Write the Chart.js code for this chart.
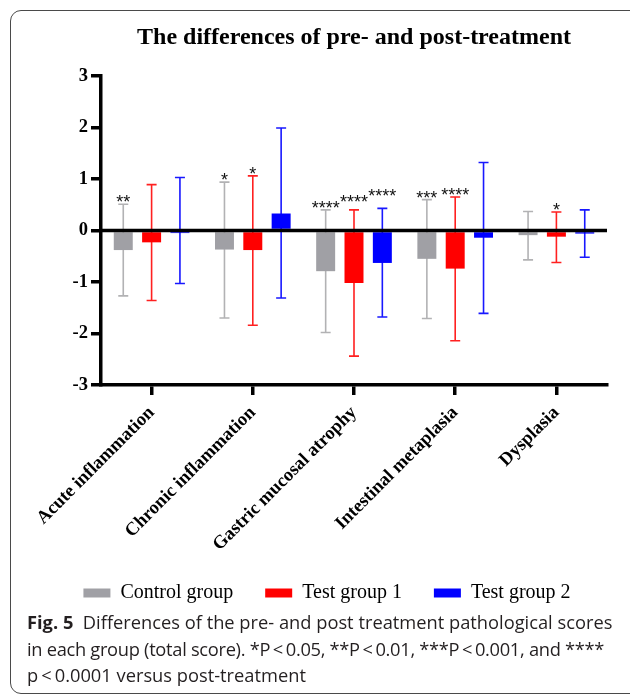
<!DOCTYPE html>
<html>
<head>
<meta charset="utf-8">
<script src="https://cdn.jsdelivr.net/npm/chart.js@4.4.1/dist/chart.umd.min.js"></script>
<style>
  html, body { margin: 0; padding: 0; background: #fff; }
  body { width: 630px; height: 695px; position: relative; overflow: hidden; }
  #frame {
    position: absolute; left: 10px; top: 10px; width: 700px; height: 682px;
    border: 1.3px solid #4a4a4a; border-radius: 11px;
  }
  #wrap { position: absolute; left: 0; top: 0; width: 630px; height: 613px; }
  #caption {
    position: absolute; left: 27px; top: 609px; z-index: 2;
    font-family: "Open Sans", sans-serif; font-size: 18.3px; line-height: 26.5px;
    color: #231f20; white-space: nowrap; letter-spacing: 0;
  }
  #caption b { font-weight: 700; }
  #caption .tight { letter-spacing: -0.3px; }
</style>
</head>
<body>
<div id="frame"></div>
<div id="wrap"><canvas id="chart" width="630" height="613"></canvas></div>
<div id="caption">
  <div><b>Fig. 5</b>&nbsp; Differences of the pre- and post treatment pathological scores</div>
  <div class="tight">in each group (total score). *P&thinsp;&lt;&thinsp;0.05, **P&thinsp;&lt;&thinsp;0.01, ***P&thinsp;&lt;&thinsp;0.001, and ****</div>
  <div>p&thinsp;&lt;&thinsp;0.0001 versus post-treatment</div>
</div>
<script>
// différences pré/post traitement
const categories = ['Acute inflammation', 'Chronic inflammation', 'Gastric mucosal atrophy', 'Intestinal metaplasia', 'Dysplasia'];
const seriesNames = ['Control group', 'Test group 1', 'Test group 2'];

const controlMean = [-0.38, -0.37, -0.79, -0.55, -0.09];
const controlLow  = [-1.27, -1.70, -1.98, -1.71, -0.57];
const controlHigh = [ 0.51,  0.94,  0.40,  0.60,  0.37];

const test1Mean = [-0.23, -0.38, -1.02, -0.74, -0.12];
const test1Low  = [-1.36, -1.84, -2.44, -2.14, -0.62];
const test1High = [ 0.89,  1.06,  0.40,  0.65,  0.36];

const test2Mean = [-0.05,  0.33, -0.63, -0.14, -0.06];
const test2Low  = [-1.03, -1.31, -1.68, -1.61, -0.52];
const test2High = [ 1.03,  1.99,  0.43,  1.32,  0.40];

const controlStars = ['**', '*', '****', '***', ''];
const test1Stars   = ['',   '*', '****', '****', '*'];
const test2Stars   = ['',   '',  '****', '',    ''];

const yTicks = [-3, -2, -1, 0, 1, 2, 3];

const errors = [
  { low: controlLow, high: controlHigh, stars: controlStars, color: '#b2b2b4' },
  { low: test1Low,   high: test1High,   stars: test1Stars,   color: '#ff2020' },
  { low: test2Low,   high: test2High,   stars: test2Stars,   color: '#1818ff' },
];

const SERIF = '"Liberation Serif", "Times New Roman", serif';

// barres d'erreur dessinées sous les barres
const errorBarsPlugin = {
  id: 'errorBars',
  beforeDatasetsDraw(chart) {
    const { ctx } = chart;
    const y = chart.scales.y;
    errors.forEach((err, di) => {
      const meta = chart.getDatasetMeta(di);
      meta.data.forEach((bar, i) => {
        const top = y.getPixelForValue(err.high[i]);
        const bot = y.getPixelForValue(err.low[i]);
        ctx.save();
        ctx.strokeStyle = err.color;
        ctx.lineWidth = 1.6;
        ctx.beginPath();
        ctx.moveTo(bar.x, top); ctx.lineTo(bar.x, bot);
        ctx.moveTo(bar.x - 5, top); ctx.lineTo(bar.x + 5, top);
        ctx.moveTo(bar.x - 5, bot); ctx.lineTo(bar.x + 5, bot);
        ctx.stroke();
        ctx.restore();
      });
    });
  },
  afterDatasetsDraw(chart) {
    const { ctx, chartArea } = chart;
    const y = chart.scales.y;
    // ligne du zéro par-dessus les barres
    const y0 = y.getPixelForValue(0);
    ctx.save();
    ctx.strokeStyle = '#000';
    ctx.lineWidth = 3.5;
    ctx.beginPath();
    ctx.moveTo(chartArea.left, y0); ctx.lineTo(chartArea.right, y0);
    ctx.stroke();

    // étoiles de significativité, décalées si elles se chevauchent
    ctx.font = '18px "Liberation Sans", Arial, sans-serif';
    ctx.fillStyle = '#111';
    ctx.textAlign = 'center';
    ctx.textBaseline = 'alphabetic';
    categories.forEach((c, i) => {
      let prev = null;
      errors.forEach((err, di) => {
        const s = err.stars[i];
        if (!s) return;
        const bar = chart.getDatasetMeta(di).data[i];
        const w = ctx.measureText(s).width;
        let base = y.getPixelForValue(err.high[i]) + 4;
        if (prev && bar.x - w / 2 < prev.right + 1) base = Math.min(base, prev.base - 6);
        ctx.fillText(s, bar.x, base);
        prev = { right: bar.x + w / 2, base };
      });
    });
    ctx.restore();

    // titre centré sur la zone du graphe
    ctx.save();
    ctx.font = 'bold 24px ' + SERIF;
    ctx.fillStyle = '#000';
    ctx.textAlign = 'center';
    ctx.textBaseline = 'alphabetic';
    ctx.fillText('The differences of pre- and post-treatment', (chartArea.left + chartArea.right) / 2, 44);
    ctx.restore();
  },
};

new Chart(document.getElementById('chart'), {
  type: 'bar',
  data: {
    labels: categories,
    datasets: [
      { label: seriesNames[0], data: controlMean, backgroundColor: '#a0a0a5' },
      { label: seriesNames[1], data: test1Mean,   backgroundColor: '#ff0000' },
      { label: seriesNames[2], data: test2Mean,   backgroundColor: '#0000ff' },
    ],
  },
  options: {
    responsive: false,
    animation: false,
    devicePixelRatio: 1,
    categoryPercentage: 0.84,
    barPercentage: 0.67,
    layout: { padding: { left: 47, right: 23, top: 76, bottom: 0 } },
    plugins: {
      title: { display: false },
      tooltip: { enabled: false },
      legend: {
        position: 'bottom',
        labels: {
          boxWidth: 27,
          boxHeight: 9,
          padding: 32,
          color: '#000',
          font: { family: SERIF, size: 20 },
        },
      },
    },
    scales: {
      x: {
        afterFit(scale) { scale.height = 166; },
        grid: { display: true, drawOnChartArea: false, offset: false, tickLength: 10, color: '#000', lineWidth: 3.5 },
        border: { color: '#000', width: 3.5 },
        ticks: {
          color: '#000',
          maxRotation: 45,
          minRotation: 45,
          padding: 7,
          font: { family: SERIF, size: 18.5, weight: 'bold' },
        },
      },
      y: {
        min: yTicks[0],
        max: yTicks[yTicks.length - 1],
        afterFit(scale) { scale.width = 54; },
        afterBuildTicks(scale) { scale.ticks = yTicks.map(v => ({ value: v })); },
        grid: { drawOnChartArea: false, tickLength: 10, color: '#000', lineWidth: 3.5 },
        border: { color: '#000', width: 3.5 },
        ticks: {
          color: '#000',
          padding: 3,
          font: { family: SERIF, size: 18.5, weight: 'bold' },
        },
      },
    },
  },
  plugins: [errorBarsPlugin],
});
</script>
</body>
</html>
